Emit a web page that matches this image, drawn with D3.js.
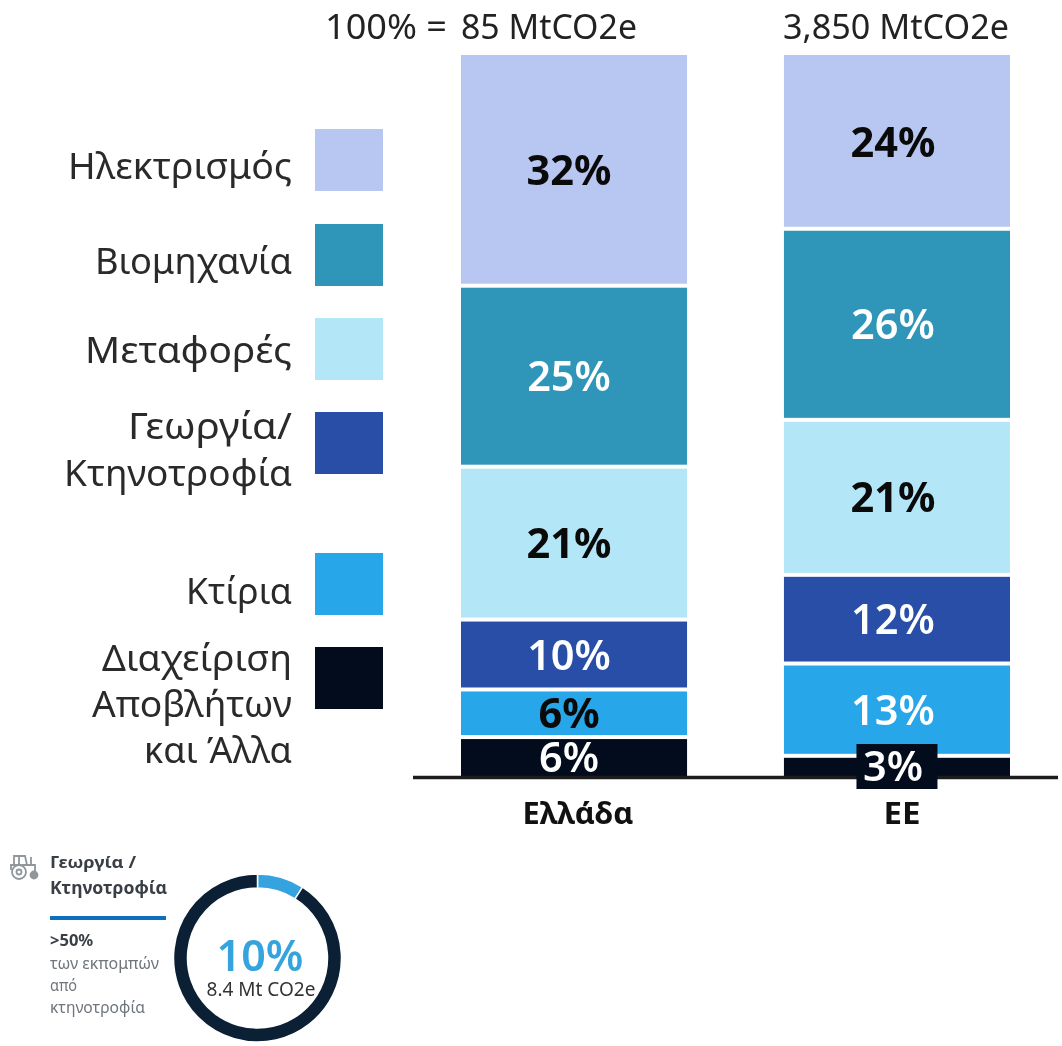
<!DOCTYPE html>
<html><head><meta charset="utf-8">
<script src="https://cdn.jsdelivr.net/npm/d3@7/dist/d3.min.js"></script>
<style>html,body{margin:0;background:#fff}svg{display:block;filter:blur(0.45px)}text{font-family:"Noto Sans",sans-serif}</style>
</head><body><svg id="c" width="1062" height="1046"></svg>
<script>
const countries = ["Ελλάδα", "ΕΕ"];
const totals = ["85 MtCO2e", "3,850 MtCO2e"];
const sectors = ["Ηλεκτρισμός", "Βιομηχανία", "Μεταφορές", "Γεωργία/\nΚτηνοτροφία", "Κτίρια", "Διαχείριση\nΑποβλήτων\nκαι Άλλα"];
const colors = ["#b7c7f1", "#2f95b9", "#b3e6f6", "#284ea8", "#27a7e9", "#020c1d"];
const shareGreece = [32.0, 25.1, 21.2, 9.7, 6.6, 5.4];
const shareEU = [24.1, 26.5, 21.5, 12.3, 12.8, 2.8];
const labelsGreece = ["32%", "25%", "21%", "10%", "6%", "6%"];
const labelsEU = ["24%", "26%", "21%", "12%", "13%", "3%"];
const labelColorsGreece = ["#0a0a0a", "#fff", "#0a0a0a", "#fff", "#0a0a0a", "#fff"];
const labelColorsEU = ["#0a0a0a", "#fff", "#0a0a0a", "#fff", "#fff", "#fff"];
const donutValues = [9, 91];

// layout
const legendTop = [129, 224, 318, 412, 553, 647];
const legendBase = [[179], [274], [363], [439, 486], [604], [671, 717, 763]];
const legendWidths = [[224], [197], [207], [164, 228], [106], [190, 200, 148]];

const svg = d3.select("#c");
const x = d3.scaleBand().domain(countries).range([461, 1010]).paddingInner(0.3).paddingOuter(0);
const y = d3.scaleLinear().domain([0, 100]).range([776, 55]);
const GAP = 4;

[shareGreece, shareEU].forEach((vals, ci) => {
  const stack = d3.cumsum([0, ...vals]);
  vals.forEach((v, i) => {
    const t = y(100 - stack[i]) + (i ? GAP / 2 : 0);
    const b = y(100 - stack[i + 1]) - (i < vals.length - 1 ? GAP / 2 : 0);
    svg.append("rect").attr("x", x(countries[ci])).attr("width", x.bandwidth())
      .attr("y", t).attr("height", b - t).attr("fill", colors[i]);
  });
});

// axis baseline
svg.append("line").attr("x1", 413).attr("x2", 1058).attr("y1", 777.5).attr("y2", 777.5).attr("stroke", "#1c1c1c").attr("stroke-width", 3.5);

// value labels
[shareGreece, shareEU].forEach((vals, ci) => {
  const labels = ci ? labelsEU : labelsGreece;
  const fills = ci ? labelColorsEU : labelColorsGreece;
  const centre = x(countries[ci]) + x.bandwidth() / 2;
  const stack = d3.cumsum([0, ...vals]);
  vals.forEach((v, i) => {
    const cy = (y(100 - stack[i]) + y(100 - stack[i + 1])) / 2;
    if (ci === 1 && i === 5) {
      svg.append("rect").attr("x", centre - 40.5).attr("width", 81).attr("y", 744).attr("height", 45).attr("fill", colors[5]);
    }
    svg.append("text").attr("x", centre - (ci ? 4 : 5)).attr("y", cy + 15).attr("text-anchor", "middle")
      .attr("font-size", 41.5).attr("font-weight", fills[i] === "#fff" ? 600 : 700)
      .attr("fill", fills[i]).text(labels[i]);
  });
});

// headers and category labels
svg.append("text").attr("x", 325).attr("y", 39).attr("font-size", 34).attr("textLength", 122).attr("lengthAdjust", "spacingAndGlyphs").attr("fill", "#222").text("100% =");
countries.forEach((c, i) => {
  svg.append("text").attr("x", i ? 896 : 549).attr("y", 39).attr("text-anchor", "middle").attr("font-size", 34)
    .attr("textLength", i ? 226 : 176).attr("lengthAdjust", "spacingAndGlyphs").attr("fill", "#222").text(totals[i]);
  svg.append("text").attr("x", i ? 902 : 578).attr("y", 824).attr("text-anchor", "middle").attr("font-size", 31)
    .attr("textLength", i ? 37 : 111).attr("lengthAdjust", "spacingAndGlyphs").attr("font-weight", 700).attr("fill", "#111").text(c);
});

// legend
sectors.forEach((s, i) => {
  svg.append("rect").attr("x", 315).attr("y", legendTop[i]).attr("width", 68).attr("height", 62).attr("fill", colors[i]);
  s.split("\n").forEach((line, k) => {
    svg.append("text").attr("x", 292).attr("y", legendBase[i][k]).attr("text-anchor", "end")
      .attr("font-size", 36).attr("textLength", legendWidths[i][k]).attr("lengthAdjust", "spacingAndGlyphs")
      .attr("fill", "#2a2a2a").text(line);
  });
});

// inset
const ins = svg.append("g");
const ic = ins.append("g").attr("fill", "none").attr("stroke", "#8f979c").attr("stroke-width", 1.8);
ic.append("circle").attr("cx", 19).attr("cy", 872).attr("r", 7);
ic.append("circle").attr("cx", 19).attr("cy", 872).attr("r", 2.5);
ic.append("circle").attr("cx", 34).attr("cy", 875).attr("r", 3.5).attr("fill", "#8f979c");
ic.append("path").attr("d", "M14 864V856H25L27 865M19 856V864M11 870V865H35V871M31 857V865");
const dark = "#3a3f45", mid = "#6f757b";
ins.append("text").attr("x", 50).attr("y", 868).attr("font-size", 16).attr("font-weight", 700).attr("textLength", 86).attr("lengthAdjust", "spacingAndGlyphs").attr("fill", dark).text("Γεωργία /");
ins.append("text").attr("x", 50).attr("y", 894).attr("font-size", 17).attr("font-weight", 700).attr("textLength", 117).attr("lengthAdjust", "spacingAndGlyphs").attr("fill", dark).text("Κτηνοτροφία");
ins.append("line").attr("x1", 50).attr("x2", 166).attr("y1", 918).attr("y2", 918).attr("stroke", "#0f6fbf").attr("stroke-width", 4);
ins.append("text").attr("x", 50).attr("y", 946).attr("font-size", 16.5).attr("font-weight", 700).attr("fill", dark).text(">50%");
[["των εκπομπών", 109], ["από", 27], ["κτηνοτροφία", 95]].forEach(([t, w], i) => {
  ins.append("text").attr("x", 50).attr("y", 969 + i * 22).attr("font-size", 16).attr("textLength", w).attr("lengthAdjust", "spacingAndGlyphs").attr("fill", mid).text(t);
});
const pie = d3.pie().sort(null)(donutValues);
const arc = d3.arc().innerRadius(70).outerRadius(84);
ins.append("g").attr("transform", "translate(257.5,958)").selectAll("path").data(pie).join("path")
  .attr("d", arc).attr("fill", (d, i) => i ? "#0c2035" : "#35a3dd").attr("stroke", "#fff").attr("stroke-width", 1.5);
ins.append("text").attr("x", 260).attr("y", 971).attr("text-anchor", "middle").attr("font-size", 43).attr("font-weight", 600).attr("fill", "#35a3dd").text("10%");
ins.append("text").attr("x", 261).attr("y", 996).attr("text-anchor", "middle").attr("font-size", 19).attr("fill", "#333").text("8.4 Mt CO2e");
</script></body></html>
